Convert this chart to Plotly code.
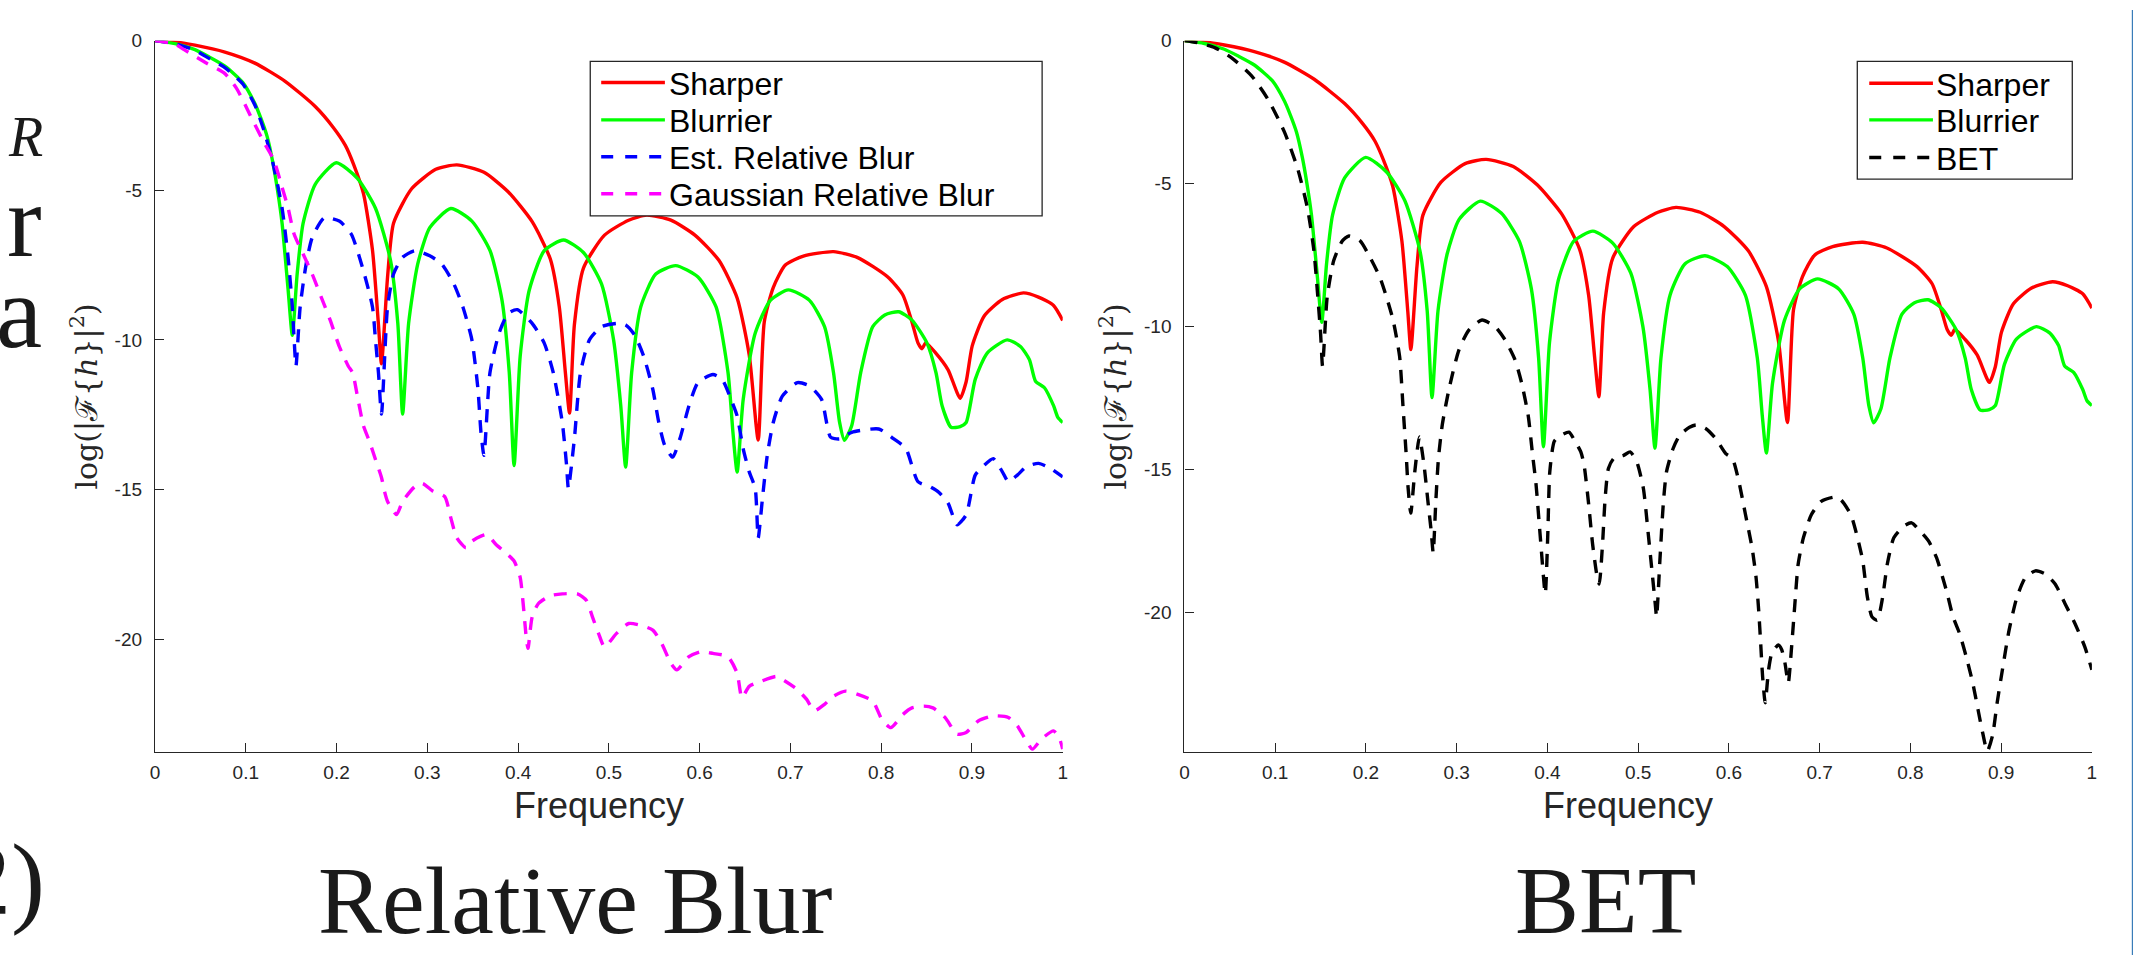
import plotly.graph_objects as go

# ---------------- data ----------------
sharper_f = [0, 0.022, 0.044, 0.077, 0.110, 0.143, 0.1765, 0.1964, 0.2097, 0.219, 0.2296, 0.2396,
             0.2462, 0.2495, 0.2562, 0.2628, 0.2827, 0.3093, 0.3325, 0.3624, 0.389, 0.4155, 0.4355,
             0.4454, 0.4521, 0.4567, 0.462, 0.472, 0.4952, 0.5218, 0.5417, 0.5683, 0.5948, 0.6214,
             0.6413, 0.6546, 0.6645, 0.6712, 0.6811, 0.6944, 0.7143, 0.7475, 0.7741, 0.8073, 0.8239,
             0.8339, 0.8405, 0.845, 0.849, 0.8604, 0.8737, 0.887, 0.8936, 0.9003, 0.9135, 0.9335,
             0.9567, 0.9733, 0.9899, 1.0]
sharper_v = [0, -0.04, -0.15, -0.38, -0.75, -1.35, -2.2, -2.9, -3.5, -4.15, -5.1, -7.0,
             -9.5, -10.8, -7.9, -6.1, -4.95, -4.3, -4.15, -4.4, -5.05, -6.05, -7.3,
             -8.9, -11.1, -12.45, -9.5, -7.6, -6.5, -6.0, -5.83, -6.0, -6.5, -7.35,
             -8.6, -10.5, -13.35, -9.4, -8.25, -7.5, -7.2, -7.05, -7.25, -7.9, -8.5,
             -9.4, -10.1, -10.3, -10.1, -10.45, -11.0, -11.95, -11.4, -10.2, -9.2, -8.65,
             -8.43, -8.57, -8.85, -9.35]

blurrier_f = [0, 0.022, 0.044, 0.06, 0.077, 0.0968, 0.11, 0.1167, 0.1235, 0.13, 0.135, 0.14, 0.1466,
              0.1513, 0.1566, 0.1632, 0.1765, 0.1997, 0.223, 0.2429, 0.2595, 0.2675, 0.2728, 0.2794,
              0.2894, 0.3027, 0.3259, 0.3491, 0.3691, 0.3823, 0.3903, 0.3956, 0.4023, 0.4122, 0.4288,
              0.4501, 0.472, 0.4919, 0.5052, 0.5131, 0.5185, 0.5251, 0.5351, 0.5517, 0.5736, 0.5982,
              0.6181, 0.6313, 0.6367, 0.6413, 0.648, 0.6612, 0.6779, 0.6977, 0.721, 0.7376, 0.7475,
              0.7542, 0.7595, 0.7675, 0.7774, 0.7907, 0.804, 0.8193, 0.8339, 0.8505, 0.8604, 0.8671,
              0.877, 0.887, 0.8936, 0.9036, 0.9168, 0.9388, 0.9534, 0.9633, 0.97, 0.9799, 0.9899,
              0.9946, 1.0]
blurrier_v = [0, -0.1, -0.3, -0.55, -0.85, -1.4, -2.1, -2.6, -3.2, -4.1, -5.0, -6.1, -8.3,
              -9.85, -7.8, -6.1, -4.8, -4.08, -4.6, -5.6, -7.35, -9.45, -12.48, -9.45,
              -7.47, -6.25, -5.61, -6.03, -7.02, -8.68, -11.1, -14.2, -10.55, -8.35, -7.02,
              -6.66, -7.08, -8.13, -10.0, -12.2, -14.25, -11.1, -8.9, -7.8, -7.52, -7.9,
              -8.9, -11.1, -13.09, -14.42, -11.99, -9.78, -8.68, -8.33, -8.68, -9.56, -11.1,
              -12.76, -13.36, -12.87, -11.1, -9.56, -9.17, -9.06, -9.34, -10.11, -11.1, -12.2,
              -12.92, -12.9, -12.76, -11.32, -10.44, -10.0, -10.22, -10.66, -11.38, -11.6, -12.2,
              -12.59, -12.76]

est_f = [0, 0.022, 0.044, 0.06, 0.077, 0.0968, 0.11, 0.12, 0.13, 0.14, 0.1466, 0.1513, 0.1533,
         0.1553, 0.1599, 0.1665, 0.1732, 0.1865, 0.203, 0.2163, 0.2296, 0.2396, 0.2429, 0.2462,
         0.2495, 0.2562, 0.2628, 0.2728, 0.2861, 0.3027, 0.316, 0.3292, 0.3392, 0.3491, 0.3558,
         0.3591, 0.3624, 0.369, 0.379, 0.389, 0.399, 0.4155, 0.4288, 0.4388, 0.4487, 0.4534,
         0.4554, 0.462, 0.4687, 0.4786, 0.4919, 0.5085, 0.5185, 0.5284, 0.5384, 0.5484, 0.555,
         0.5616, 0.5703, 0.5782, 0.5882, 0.5981, 0.6147, 0.6247, 0.6346, 0.6413, 0.648, 0.6546,
         0.6612, 0.6645, 0.6692, 0.6745, 0.6811, 0.6911, 0.7077, 0.721, 0.7343, 0.7442, 0.7542,
         0.7675, 0.7973, 0.8139, 0.8272, 0.8405, 0.8538, 0.8637, 0.8737, 0.8837, 0.8936, 0.9036,
         0.9135, 0.9235, 0.9335, 0.9401, 0.95, 0.96, 0.9733, 0.9866, 1.0]
est_v = [0, -0.1, -0.32, -0.6, -0.9, -1.45, -2.15, -3.0, -4.1, -5.59, -7.24, -8.9, -10.0,
         -10.88, -8.9, -7.47, -6.58, -5.92, -6.03, -6.47, -7.69, -8.9, -10.0, -11.1,
         -12.48, -8.9, -7.8, -7.24, -7.02, -7.19, -7.47, -8.13, -8.9, -10.0, -11.65,
         -13.09, -13.86, -11.1, -9.78, -9.12, -8.99, -9.45, -10.11, -11.1, -12.76, -14.19,
         -14.96, -13.31, -11.1, -10.0, -9.56, -9.45, -9.5, -9.84, -10.55, -11.65, -12.76,
         -13.53, -13.92, -13.31, -12.21, -11.43, -11.16, -11.32, -11.99, -12.54, -13.64, -14.41,
         -14.96, -16.62, -15.3, -13.86, -12.76, -11.88, -11.43, -11.54, -11.99, -13.25, -13.31,
         -13.09, -12.98, -13.31, -13.63, -14.74, -14.91, -15.1, -15.46, -16.18, -15.85, -14.52,
         -14.19, -13.97, -14.41, -14.74, -14.52, -14.24, -14.13, -14.3, -14.58]

gauss_f = [0, 0.022, 0.032, 0.056, 0.077, 0.09, 0.105, 0.12, 0.131, 0.14, 0.1466, 0.1533, 0.1632,
           0.1732, 0.1831, 0.193, 0.203, 0.213, 0.2177, 0.223, 0.2296, 0.2363, 0.2429, 0.2495,
           0.2529, 0.2562, 0.2661, 0.2728, 0.2861, 0.2947, 0.3059, 0.3192, 0.3259, 0.3325, 0.3425,
           0.3491, 0.3591, 0.3657, 0.3757, 0.3856, 0.3956, 0.4023, 0.4056, 0.4089, 0.4109, 0.4155,
           0.4222, 0.4355, 0.4487, 0.4653, 0.4753, 0.4819, 0.4886, 0.4952, 0.5085, 0.5218, 0.5351,
           0.5484, 0.5583, 0.5683, 0.5749, 0.5882, 0.6015, 0.6147, 0.6313, 0.6413, 0.6466, 0.6546,
           0.6679, 0.6845, 0.6944, 0.7077, 0.7177, 0.7263, 0.7376, 0.7475, 0.7608, 0.7741, 0.7907,
           0.8007, 0.8106, 0.8239, 0.8339, 0.8471, 0.857, 0.8703, 0.8837, 0.8936, 0.9069, 0.9235,
           0.9401, 0.95, 0.9587, 0.9666, 0.9766, 0.9899, 0.9966, 1.0]
gauss_v = [0, -0.12, -0.3, -0.74, -1.1, -1.6, -2.5, -3.4, -4.0, -4.9, -5.59, -6.47, -7.13,
           -7.8, -8.57, -9.34, -10.22, -10.88, -11.1, -11.88, -12.87, -13.4, -14.0, -14.6,
           -15.07, -15.4, -15.84, -15.4, -14.91, -14.8, -15.05, -15.24, -15.95, -16.62, -16.95,
           -16.73, -16.56, -16.51, -16.84, -17.1, -17.39, -17.94, -18.82, -19.92, -20.31, -19.26,
           -18.82, -18.55, -18.49, -18.49, -18.71, -19.26, -19.81, -20.26, -19.81, -19.48, -19.54,
           -19.7, -20.15, -20.81, -21.03, -20.59, -20.42, -20.48, -20.59, -21.14, -21.96, -21.58,
           -21.41, -21.25, -21.41, -21.69, -22.01, -22.4, -22.18, -21.91, -21.74, -21.85, -22.07,
           -22.68, -22.96, -22.52, -22.3, -22.24, -22.3, -22.62, -23.18, -23.12, -22.74, -22.57,
           -22.62, -22.9, -23.34, -23.68, -23.34, -23.07, -23.34, -23.68]

bet_f = [0, 0.0157, 0.0338, 0.052, 0.074, 0.0919, 0.1101, 0.1246, 0.1355, 0.1427, 0.1464, 0.15,
         0.1522, 0.1573, 0.1645, 0.174, 0.1812, 0.1935, 0.2045, 0.2153, 0.2226, 0.2299, 0.2371,
         0.2408, 0.2444, 0.2465, 0.2494, 0.2538, 0.2589, 0.264, 0.2683, 0.2719, 0.2741, 0.277,
         0.2799, 0.2843, 0.2915, 0.3025, 0.3134, 0.3279, 0.3424, 0.3533, 0.3642, 0.3715, 0.3788,
         0.3837, 0.3874, 0.3925, 0.3976, 0.4005, 0.4026, 0.4077, 0.415, 0.4237, 0.431, 0.4368,
         0.4404, 0.4455, 0.4498, 0.4549, 0.4571, 0.4607, 0.4636, 0.4672, 0.4731, 0.484, 0.4912,
         0.4985, 0.5057, 0.5108, 0.5152, 0.5188, 0.5203, 0.5239, 0.5276, 0.5312, 0.5384, 0.5457,
         0.5566, 0.5638, 0.5747, 0.5856, 0.5965, 0.6038, 0.611, 0.6183, 0.6255, 0.6299, 0.6328,
         0.635, 0.6371, 0.64, 0.6437, 0.6473, 0.6545, 0.6582, 0.6618, 0.6654, 0.6691, 0.6727,
         0.6763, 0.6821, 0.6908, 0.7017, 0.7163, 0.7235, 0.7344, 0.7417, 0.7475, 0.7526, 0.7577,
         0.7635, 0.7694, 0.7745, 0.7817, 0.7926, 0.8013, 0.8106, 0.8201, 0.8288, 0.8397, 0.847,
         0.8542, 0.8615, 0.8687, 0.8745, 0.8796, 0.8847, 0.8905, 0.8956, 0.9014, 0.9087, 0.9174,
         0.9268, 0.9377, 0.9486, 0.9595, 0.9704, 0.9813, 0.9921, 1.0]
bet_v = [0, -0.08, -0.25, -0.6, -1.23, -2.04, -3.19, -4.46, -5.85, -7.35, -8.73, -10.23,
         -11.38, -8.96, -7.69, -7.0, -6.83, -7.0, -7.58, -8.27, -8.96, -9.77, -11.04,
         -12.77, -14.5, -15.65, -16.52, -15.08, -13.86, -14.84, -16.11, -17.15, -17.9, -16.11,
         -14.6, -13.4, -12.19, -10.81, -10.12, -9.77, -10.0, -10.46, -11.15, -11.96, -13.11,
         -14.5, -15.5, -17.5, -19.34, -17.15, -15.08, -14.0, -13.8, -13.69, -14.04, -14.38,
         -14.84, -16.23, -17.61, -18.77, -19.0, -17.61, -16.0, -14.96, -14.61, -14.5, -14.38,
         -14.73, -15.65, -17.15, -18.54, -19.69, -20.15, -18.19, -16.23, -15.08, -14.27, -13.8,
         -13.52, -13.44, -13.57, -13.92, -14.44, -14.61, -15.42, -16.58, -17.73, -18.77, -19.92,
         -21.07, -22.23, -23.15, -22.0, -21.42, -21.13, -21.3, -21.77, -22.46, -21.19, -19.69,
         -18.31, -17.38, -16.58, -16.11, -15.96, -16.06, -16.58, -17.38, -18.19, -19.46, -20.15,
         -20.27, -19.46, -18.31, -17.38, -16.98, -16.86, -17.15, -17.5, -18.08, -19.23, -20.15,
         -20.73, -21.54, -22.46, -23.39, -24.2, -24.85, -24.3, -23.15, -22.0, -20.62, -19.46,
         -18.77, -18.54, -18.65, -19.0, -19.69, -20.38, -21.19, -22.0]

x_tickvals = [0, 0.1, 0.2, 0.3, 0.4, 0.5, 0.6, 0.7, 0.8, 0.9, 1]
x_ticktext = ["0", "0.1", "0.2", "0.3", "0.4", "0.5", "0.6", "0.7", "0.8", "0.9", "1"]
y_tickvals = [0, -5, -10, -15, -20]
y_ticktext = ["0", "-5", "-10", "-15", "-20"]

left_names = ["Sharper", "Blurrier", "Est. Relative Blur", "Gaussian Relative Blur"]
right_names = ["Sharper", "Blurrier", "BET"]
panel_titles = ["Relative Blur", "BET"]
x_title = "Frequency"
y_title = "log(|ℱ{<i>h</i>}|<sup>2</sup>)"

# ---------------- styling ----------------
W, H = 2138, 955
def px(x):
    return x / W
def py(y):
    return 1 - y / H

RED, GREEN, BLUE, MAG, BLACK = "#ff0000", "#00ff00", "#0000ff", "#ff00ff", "#000000"
AX = "#262626"
DASH = "13px,10px"
LW = 3.4
SANS = "Liberation Sans, Arial, sans-serif"
SERIF = "Liberation Serif, Times New Roman, serif"

fig = go.Figure()

def add(xs, ys, color, name, xa, ya, dash=None):
    fig.add_trace(go.Scatter(
        x=xs, y=ys, mode="lines", name=name, showlegend=False,
        line=dict(color=color, width=LW, dash=dash or "solid", shape="spline", smoothing=0.6),
        xaxis=xa, yaxis=ya))

add(sharper_f, sharper_v, RED, left_names[0], "x", "y")
add(blurrier_f, blurrier_v, GREEN, left_names[1], "x", "y")
add(est_f, est_v, BLUE, left_names[2], "x", "y", DASH)
add(gauss_f, gauss_v, MAG, left_names[3], "x", "y", DASH)

add(sharper_f, sharper_v, RED, right_names[0], "x2", "y2")
add(blurrier_f, blurrier_v, GREEN, right_names[1], "x2", "y2")
add(bet_f, bet_v, BLACK, right_names[2], "x2", "y2", DASH)

ydom = [py(750), py(31)]
tickfont = dict(family=SANS, size=19, color=AX)

def xaxis_cfg(domain, anchor):
    return dict(domain=domain, anchor=anchor, range=[0, 1], tickmode="array",
                tickvals=x_tickvals, ticktext=x_ticktext, ticks="inside", ticklen=9,
                tickwidth=1.3, tickcolor=AX, showline=True, linecolor=AX, linewidth=1.3,
                showgrid=False, zeroline=False, tickfont=tickfont, ticklabelstandoff=3)

def yaxis_cfg(anchor, lo):
    return dict(domain=ydom, anchor=anchor, range=[lo, 0], tickmode="array",
                tickvals=y_tickvals, ticktext=y_ticktext, ticks="inside", ticklen=9,
                tickwidth=1.3, tickcolor=AX, showline=True, linecolor=AX, linewidth=1.3,
                showgrid=False, zeroline=False, tickfont=tickfont, ticklabelstandoff=8,
                title=dict(text=y_title, standoff=8,
                           font=dict(family="DejaVu Serif, serif", size=30, color=AX)))

fig.update_layout(
    width=W, height=H, margin=dict(l=0, r=0, t=0, b=0),
    paper_bgcolor="white", plot_bgcolor="white", showlegend=False,
    xaxis=xaxis_cfg([px(150.7), px(1062.7)], "y"),
    yaxis=yaxis_cfg("x", -23.78),
    xaxis2=xaxis_cfg([px(1185), px(2096.7)], "y2"),
    yaxis2=yaxis_cfg("x2", -24.88),
)

shapes = []
annotations = []
LEGFONT = dict(family=SANS, size=32, color="black")

def legend(box, line_x0, line_x1, text_x, rows, names, colors, dashes):
    x0, y0, x1, y1 = box
    shapes.append(dict(type="rect", xref="paper", yref="paper", x0=px(x0), x1=px(x1),
                       y0=py(y1), y1=py(y0), line=dict(color=AX, width=1.3),
                       fillcolor="white", layer="above"))
    for yy, nm, c, d in zip(rows, names, colors, dashes):
        shapes.append(dict(type="line", xref="paper", yref="paper", x0=px(line_x0), x1=px(line_x1),
                           y0=py(yy), y1=py(yy), line=dict(color=c, width=LW, dash=d), layer="above"))
        annotations.append(dict(text=nm, xref="paper", yref="paper", x=px(text_x), y=py(yy + 1.5),
                                xanchor="left", yanchor="middle", showarrow=False, font=LEGFONT,
                                borderpad=0))

legend((588, 52, 1042, 208), 599, 663, 666, [73.3, 111, 148.3, 185.7], left_names,
       [RED, GREEN, BLUE, MAG], ["solid", "solid", "12px,12px", "12px,12px"])
legend((1861, 52, 2077, 171), 1873, 1937, 1939, [74, 111, 149], right_names,
       [RED, GREEN, BLACK], ["solid", "solid", "12px,12px"])

# x-axis titles
for cx in (597, 1631):
    annotations.append(dict(text=x_title, xref="paper", yref="paper", x=px(cx), y=py(804),
                            xanchor="center", yanchor="middle", showarrow=False,
                            font=dict(family=SANS, size=36, color=AX)))

# panel captions
for txt, cx in zip(panel_titles, (573, 1608)):
    annotations.append(dict(text=txt, xref="paper", yref="paper", x=px(cx), y=0,
                            xanchor="center", yanchor="bottom", showarrow=False, borderpad=0,
                            font=dict(family=SERIF, size=96, color="#1a1a1a")))

# cut-off slide text on the left edge
for txt, size, right, center in [("<i>R</i>", 56, 39, 128), ("r", 104, 38, 213),
                                  ("a", 104, 38, 305), ("2)", 102, 41, 879)]:
    annotations.append(dict(text=txt, xref="paper", yref="paper", x=px(right), y=py(center),
                            xanchor="right", yanchor="middle", showarrow=False, borderpad=0,
                            font=dict(family=SERIF, size=size, color="#1a1a1a")))

# thin border line at the far right edge
shapes.append(dict(type="line", xref="paper", yref="paper", x0=px(2137.4), x1=px(2137.4),
                   y0=0, y1=1, line=dict(color="#3a7cb8", width=1.2)))

fig.update_layout(shapes=shapes, annotations=annotations)
fig.write_html("out.html")
